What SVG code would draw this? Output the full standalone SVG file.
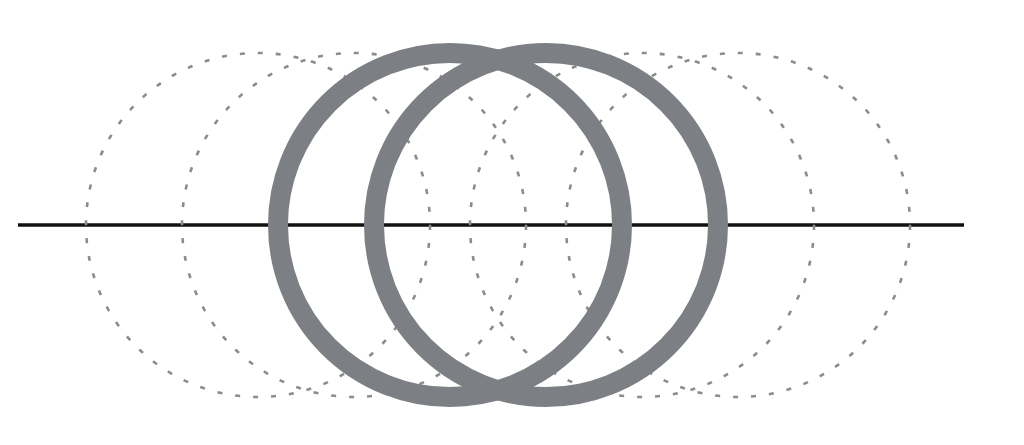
<svg xmlns="http://www.w3.org/2000/svg" width="1024" height="445" viewBox="0 0 1024 445">
<style>
.axis{stroke:#111;stroke-width:3.5;fill:none}
.ghost{fill:none;stroke:#8c8c8c;stroke-width:2.6;stroke-dasharray:5 13}
.ring{fill:none;stroke:#7c7f84;stroke-width:20}
</style>
<rect width="1024" height="445" fill="#fff"/>
<g id="axis"><line class="axis" x1="18" y1="225" x2="964" y2="225"/></g>
<g id="ghosts">
<circle id="ghost1" class="ghost" cx="258" cy="225" r="172"/>
<circle id="ghost2" class="ghost" cx="354" cy="225" r="172"/>
<circle id="ghost3" class="ghost" cx="642" cy="225" r="172"/>
<circle id="ghost4" class="ghost" cx="738" cy="225" r="172"/>
</g>
<g id="ring1"><circle class="ring" cx="450" cy="225" r="172"/></g>
<g id="ring2"><circle class="ring" cx="546" cy="225" r="172"/></g>
</svg>
